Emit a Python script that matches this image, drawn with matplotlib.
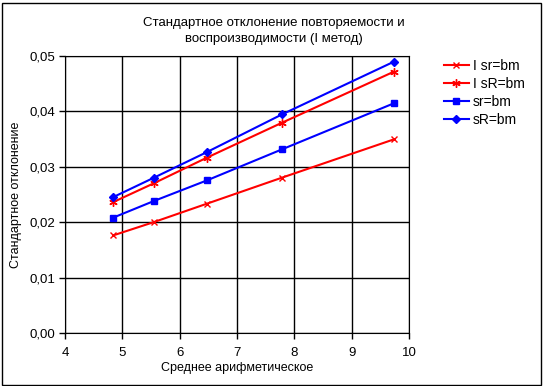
import matplotlib.pyplot as plt
from matplotlib.ticker import FuncFormatter, MultipleLocator

plt.rcParams['font.family'] = ['Liberation Sans', 'DejaVu Sans']

# средние значения
x_mean = [4.84, 5.55, 6.47, 7.78, 9.73]

sr_I = [0.0176, 0.0200, 0.0233, 0.0280, 0.0349]
sR_I = [0.0236, 0.0270, 0.0316, 0.0379, 0.0471]
sr_bm = [0.0208, 0.0238, 0.0275, 0.0331, 0.0414]
sR_bm = [0.0245, 0.0280, 0.0326, 0.0394, 0.0489]

labels = ['I sr=bm', 'I sR=bm', 'sr=bm', 'sR=bm']

fig = plt.figure(figsize=(5.48, 3.86), dpi=100)
ax = fig.add_axes([0.1186, 0.1373, 0.628, 0.7184])

ax.plot(x_mean, sr_I, color='#ff0000', lw=1.5, marker='x', ms=5, mew=1, label=labels[0])
ax.plot(x_mean, sR_I, color='#ff0000', lw=1.5, marker=(6, 2, 0), ms=6, mew=1, label=labels[1])
ax.plot(x_mean, sr_bm, color='#0000ff', lw=1.5, marker='s', ms=5, label=labels[2])
ax.plot(x_mean, sR_bm, color='#0000ff', lw=1.5, marker='D', ms=4.5, label=labels[3])

ax.set_xlim(4, 10)
ax.set_ylim(0, 0.05)
ax.xaxis.set_major_locator(MultipleLocator(1))
ax.yaxis.set_major_locator(MultipleLocator(0.01))
ax.yaxis.set_major_formatter(FuncFormatter(lambda v, p: ('%.2f' % v).replace('.', ',')))
ax.grid(True, color='black', lw=1)
ax.set_axisbelow(True)
for s in ax.spines.values():
    s.set_color('black')
ax.tick_params(direction='out', length=4, width=1, labelsize=9.5, colors='black', pad=3)
ax.tick_params(axis='x', pad=6)

ax.set_xlabel('Среднее арифметическое', fontsize=9, labelpad=2)
ax.set_ylabel('Стандартное отклонение', fontsize=9, labelpad=5)
fig.text(0.5, 0.92, 'Стандартное отклонение повторяемости и\nвоспроизводимости (I метод)',
         ha='center', va='center', fontsize=9.5, linespacing=1.5)

fig.legend(loc='upper left', bbox_to_anchor=(0.787, 0.88), frameon=False,
           fontsize=10, handlelength=1.8, labelspacing=0.3, handletextpad=0.3)

# рамка вокруг всего рисунка
fig.patches.append(plt.Rectangle((0.003, 0.003), 0.984, 0.99, transform=fig.transFigure,
                                 fill=False, edgecolor='black', lw=1))

fig.savefig('out.png', dpi=100)
